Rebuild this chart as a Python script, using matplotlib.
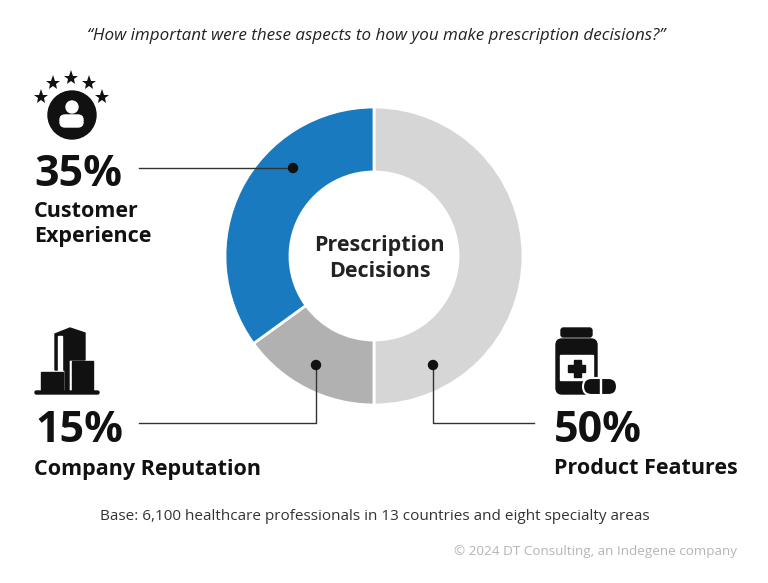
import matplotlib
matplotlib.use("Agg")
import matplotlib.pyplot as plt
from matplotlib.patches import Circle, Rectangle, FancyBboxPatch, Polygon

W, H = 768, 583

labels = ["Product Features", "Company Reputation", "Customer Experience"]
values = [50, 15, 35]
colors = ["#d6d6d6", "#b1b1b1", "#1a7abf"]
pct_labels = ["35%", "15%", "50%"]

plt.rcParams["font.family"] = "Open Sans"

fig = plt.figure(figsize=(W / 100, H / 100), dpi=100, facecolor="white")

# donut, pie gets its own axes so it is scaled from the values
cx, cy, r = 374, 256, 149
pie_ax = fig.add_axes([(cx - r) / W, 1 - (cy + r) / H, 2 * r / W, 2 * r / H], zorder=1)
pie_ax.pie(values, colors=colors, startangle=90, counterclock=False, radius=1,
           wedgeprops=dict(width=0.436, edgecolor="white", linewidth=2))
pie_ax.set_xlim(-1, 1)
pie_ax.set_ylim(-1, 1)
pie_ax.axis("off")

# everything else goes on a pixel sized overlay
ax = fig.add_axes([0, 0, 1, 1], zorder=2)
ax.set_xlim(0, W)
ax.set_ylim(H, 0)
ax.axis("off")

ink = "#111111"
ax.text(376, 36, "“How important were these aspects to how you make prescription decisions?”",
        ha="center", va="center", fontsize=12.25, style="italic", color="#222222")
ax.text(379.5, 258.5, "Prescription\nDecisions", ha="center", va="center", fontsize=15.5,
        fontweight="bold", color="#222222", linespacing=1.27)

ax.text(34, 174, pct_labels[0], ha="left", va="center", fontsize=31, fontweight="bold", color=ink)
ax.text(34, 224, "Customer\nExperience", ha="left", va="center", fontsize=15.5,
        fontweight="bold", color=ink, linespacing=1.25)
ax.text(35, 431, pct_labels[1], ha="left", va="center", fontsize=31, fontweight="bold", color=ink)
ax.text(34, 470, labels[1], ha="left", va="center", fontsize=15.5, fontweight="bold", color=ink)
ax.text(554, 431, pct_labels[2], ha="left", va="center", fontsize=31, fontweight="bold", color=ink)
ax.text(554, 469, labels[0], ha="left", va="center", fontsize=15.5, fontweight="bold", color=ink)

ax.text(374.5, 516, "Base: 6,100 healthcare professionals in 13 countries and eight specialty areas",
        ha="center", va="center", fontsize=11.0, color="#333333")
ax.text(595, 551, "© 2024 DT Consulting, an Indegene company", ha="center", va="center",
        fontsize=9.7, color="#b5b5b5")

# leader lines
line_color = "#333333"
ax.plot([139, 293], [168, 168], color=line_color, lw=1, zorder=5)
ax.plot([139, 316, 316], [423, 423, 365], color=line_color, lw=1, zorder=5)
ax.plot([534, 433, 433], [423, 423, 365], color=line_color, lw=1, zorder=5)
for x, y in [(293, 168), (316, 365), (433, 365)]:
    ax.add_patch(Circle((x, y), 4.5, color="#111111", zorder=6))

# person icon
ax.add_patch(Circle((72, 115), 24, color="#111111"))
ax.add_patch(Circle((72, 107), 6, color="white"))
ax.add_patch(FancyBboxPatch((60, 115), 23, 12, boxstyle="round,pad=0,rounding_size=5", color="white"))
for x, y in [(41, 97), (53, 83), (71, 78), (89, 83), (102, 97)]:
    ax.plot(x, y, marker="*", ms=11, color="#111111", mew=0)

# buildings icon
ax.add_patch(Polygon([(55, 334), (70, 328), (85, 333), (85, 360), (69, 360), (69, 392),
                      (65, 392), (65, 370), (55, 370)], color="#111111"))
ax.add_patch(Rectangle((58, 336), 4, 34, color="white"))
ax.add_patch(Rectangle((41, 372), 22, 20, color="#111111"))
ax.add_patch(Rectangle((72, 361), 21, 31, color="#111111"))
ax.add_patch(FancyBboxPatch((35, 391), 64, 3, boxstyle="round,pad=0,rounding_size=1.5", color="#111111"))

# bottle icon
ax.add_patch(FancyBboxPatch((561, 328), 31, 9, boxstyle="round,pad=0,rounding_size=2.5", color="#111111"))
ax.add_patch(FancyBboxPatch((556, 339), 41, 55, boxstyle="round,pad=0,rounding_size=6", color="#111111"))
ax.add_patch(Rectangle((560, 355), 33, 25, color="white"))
ax.add_patch(Rectangle((574, 360), 6.5, 17, color="#111111"))
ax.add_patch(Rectangle((568, 365), 17, 6.5, color="#111111"))
ax.add_patch(FancyBboxPatch((583, 378), 34, 17, boxstyle="round,pad=0,rounding_size=8.5",
                            fc="#111111", ec="white", lw=1.5))
ax.add_patch(Rectangle((599.5, 378), 1.5, 17, color="white"))

fig.savefig("out.png", dpi=100, facecolor="white")
